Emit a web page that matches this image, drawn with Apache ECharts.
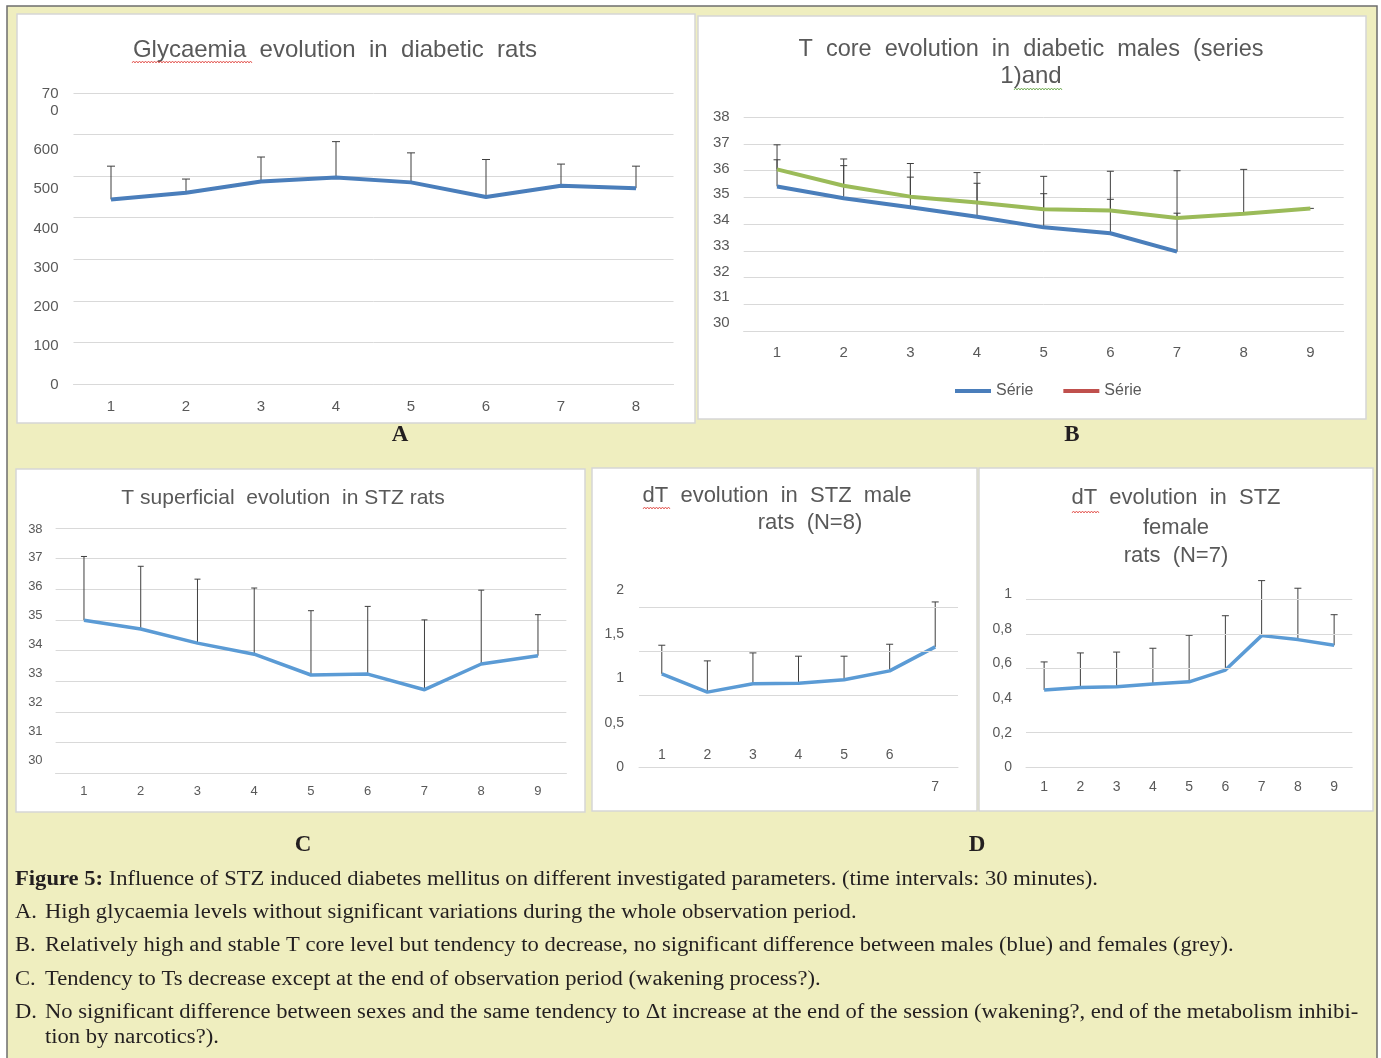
<!DOCTYPE html>
<html>
<head>
<meta charset="utf-8">
<script src="https://cdn.jsdelivr.net/npm/echarts@6/dist/echarts.min.js"></script>
<style>html,body{margin:0;padding:0;background:#fff}#c{width:1381px;height:1058px}</style>
</head>
<body>
<div id="c"></div>
<script>
// ---------- DATA ----------
// A: Glycaemia evolution in diabetic rats
const glyCategories = ['1','2','3','4','5','6','7','8'];
const glyMean = [444, 460, 487, 497, 485, 450, 477, 471];
const glyErr  = [80, 33, 59, 86, 71, 90, 52, 53];

// B: T core evolution (males = blue, females = green)
const coreCategories = ['1','2','3','4','5','6','7','8','9'];
const coreMales      = [35.41, 34.97, 34.63, 34.28, 33.88, 33.66, 32.97];
const coreMalesErr   = [1.00, 1.22, 1.13, 1.25, 1.26, 1.27, 1.44];
const coreFemales    = [36.05, 35.44, 35.03, 34.81, 34.56, 34.51, 34.23, 34.39, 34.59];
const coreFemalesErr = [0.92, 1.00, 1.24, 1.12, 1.23, 1.47, 1.77, 1.66, 0];
const coreLegend     = ['Série', 'Série '];

// C: T superficial evolution in STZ rats
const supCategories = ['1','2','3','4','5','6','7','8','9'];
const supMean = [34.99, 34.70, 34.24, 33.88, 33.20, 33.23, 32.72, 33.56, 33.83];
const supErr  = [2.08, 2.05, 2.09, 2.16, 2.10, 2.21, 2.28, 2.41, 1.34];

// D: dT evolution, males (N=8) and females (N=7)
const dtMaleCategories = ['1','2','3','4','5','6','7'];
const dtMaleMean = [1.053, 0.846, 0.940, 0.947, 0.985, 1.086, 1.357];
const dtMaleErr  = [0.323, 0.353, 0.349, 0.305, 0.267, 0.301, 0.508];
const dtMaleGridValues = [0.805, 1.311, 1.811, 2.305];

const dtFemaleCategories = ['1','2','3','4','5','6','7','8','9'];
const dtFemaleMean = [0.447, 0.461, 0.465, 0.482, 0.494, 0.562, 0.761, 0.738, 0.705];
const dtFemaleErr  = [0.162, 0.200, 0.201, 0.206, 0.269, 0.314, 0.318, 0.297, 0.177];
const dtFemaleGridValues = [0.2, 0.566, 0.769, 0.973, 1.175];

// Texts
const titleA = 'Glycaemia  evolution  in  diabetic  rats';
const titleB = ['T  core  evolution  in  diabetic  males  (series', '1)and'];
const titleC = 'T superficial  evolution  in STZ rats';
const titleDm = ['dT  evolution  in  STZ  male', 'rats  (N=8)'];
const titleDf = ['dT  evolution  in  STZ', 'female', 'rats  (N=7)'];
const captionLines = [
  '{b|Figure 5:} Influence of STZ induced diabetes mellitus on different investigated parameters. (time intervals: 30 minutes).',
  ['A.', 'High glycaemia levels without significant variations during the whole observation period.'],
  ['B.', 'Relatively high and stable T core level but tendency to decrease, no significant difference between males (blue) and females (grey).'],
  ['C.', 'Tendency to Ts decrease except at the end of observation period (wakening process?).'],
  ['D.', 'No significant difference between sexes and the same tendency to \u0394t increase at the end of the session (wakening?, end of the metabolism inhibi-'],
  ['', 'tion by narcotics?).']
];

// ---------- HELPERS ----------
const GRID_C = '#D9D9D9';
const LBL_C = '#595959';
const SANS = "'Liberation Sans', Arial, sans-serif";
const SERIF = "'Liberation Serif', 'Times New Roman', serif";

function toErrData(mean, err) { return mean.map((m, i) => [i, m, err[i]]); }
function errSeries(xi, yi, mean, err, capW) {
  return {
    type: 'custom', xAxisIndex: xi, yAxisIndex: yi, z: 1, silent: true,
    data: toErrData(mean, err),
    encode: { x: 0, y: 1 },
    renderItem: function (params, api) {
      const i = api.value(0), m = api.value(1), e = api.value(2);
      const p0 = api.coord([i, m]);
      const p1 = api.coord([i, m + e]);
      const st = { stroke: '#3F3F3F', lineWidth: 1 };
      return { type: 'group', children: [
        { type: 'line', shape: { x1: p0[0], y1: p0[1], x2: p1[0], y2: p1[1] }, style: st },
        { type: 'line', shape: { x1: p1[0] - capW / 2, y1: p1[1], x2: p1[0] + capW / 2, y2: p1[1] }, style: st }
      ]};
    }
  };
}
function lineSeries(name, xi, yi, data, color, width) {
  return { name: name, type: 'line', xAxisIndex: xi, yAxisIndex: yi, data: data, z: 3,
    symbol: 'none', lineStyle: { color: color, width: width }, itemStyle: { color: color }, silent: true, animation: false };
}
function gridLinesMark(values) {
  return { silent: true, symbol: 'none', label: { show: false }, animation: false,
    lineStyle: { color: GRID_C, type: 'solid', width: 1 },
    data: values.map(v => ({ yAxis: v })) };
}
const comma = v => String(+(+v).toFixed(2)).replace('.', ',');

// ---------- GRAPHICS (background, panels, titles, caption) ----------
const graphics = [];
graphics.push({ type: 'rect', z: -20, shape: { x: 7, y: 6, width: 1370, height: 1060 },
  style: { fill: '#EFEEBF', stroke: '#6E6E6E', lineWidth: 1.5 } });
const panels = [
  [17, 14, 678, 409], [698, 16, 668, 403], [16, 469, 569, 343], [592, 468, 385, 343], [979, 468, 394, 343]
];
panels.forEach(p => graphics.push({ type: 'rect', z: -10,
  shape: { x: p[0], y: p[1], width: p[2], height: p[3] },
  style: { fill: '#FFFFFF', stroke: '#D6D6D6', lineWidth: 1.5 } }));

function txt(text, x, y, size, opts) {
  opts = opts || {};
  graphics.push({ type: 'text', z: 10, x: x, y: y, scaleX: opts.scaleX || 1,
    style: Object.assign({ text: text, fill: opts.fill || LBL_C, font: (opts.weight || 'normal') + ' ' + size + 'px ' + (opts.family || SANS),
      textAlign: opts.align || 'center', textVerticalAlign: 'middle' }, opts.extra || {}) });
}
// spell-check squiggles under some title words
function squiggle(x1, x2, y, color) {
  const pts = [];
  let k = 0;
  for (let x = x1; x <= x2; x += 1.5, k++) pts.push([x, y + (k % 2 ? -1 : 1)]);
  graphics.push({ type: 'polyline', z: 10, shape: { points: pts }, style: { stroke: color, lineWidth: 0.8, fill: null } });
}
txt(titleA, 335, 50, 24);
txt(titleB[0], 1031, 50, 23.5); txt(titleB[1], 1031, 76, 24);
txt(titleC, 283, 498, 21);
txt(titleDm[0], 777, 496, 22); txt(titleDm[1], 810, 523, 22);
txt(titleDf[0], 1176, 498, 22); txt(titleDf[1], 1176, 528, 22); txt(titleDf[2], 1176, 556, 22);
squiggle(132, 252, 62, '#E0403A');
squiggle(1014, 1063, 89, '#5CA03A');
squiggle(643, 670, 508, '#E0403A');
squiggle(1072, 1099, 512, '#E0403A');

// panel letters
txt('A', 400, 435, 23, { family: SERIF, weight: 'bold', fill: '#231F20' });
txt('B', 1072, 435, 23, { family: SERIF, weight: 'bold', fill: '#231F20' });
txt('C', 303, 845, 23, { family: SERIF, weight: 'bold', fill: '#231F20' });
txt('D', 977, 845, 23, { family: SERIF, weight: 'bold', fill: '#231F20' });

// caption (horizontally widened serif to match the original typeface width)
const capY = [880, 913, 946, 980, 1013, 1038];
const CAP_SX = 1.13;
captionLines.forEach((ln, i) => {
  if (typeof ln === 'string') {
    txt(ln, 15, capY[i], 20, { family: SERIF, fill: '#231F20', align: 'left', scaleX: CAP_SX,
      extra: { rich: { b: { font: 'bold 20px ' + SERIF, fill: '#231F20' } } } });
  } else {
    if (ln[0]) txt(ln[0], 15, capY[i], 20, { family: SERIF, fill: '#231F20', align: 'left', scaleX: CAP_SX });
    txt(ln[1], 45, capY[i], 20, { family: SERIF, fill: '#231F20', align: 'left', scaleX: CAP_SX });
  }
});

// ---------- CHART ----------
const chart = echarts.init(document.getElementById('c'));
const hiddenX = (gi, data) => ({ type: 'category', gridIndex: gi, data: data, show: false });
const catX = (gi, data, size, margin, extra) => Object.assign({
  type: 'category', gridIndex: gi, data: data, boundaryGap: true,
  axisLine: { show: true, lineStyle: { color: GRID_C, width: 1 } }, axisTick: { show: false },
  axisLabel: { color: LBL_C, fontSize: size, fontFamily: SANS, margin: margin, interval: 0 },
  splitLine: { show: false }
}, extra || {});
const dataY = (gi, min, max, interval, showSplit) => ({
  type: 'value', gridIndex: gi, min: min, max: max, interval: interval,
  axisLine: { show: false }, axisTick: { show: false }, axisLabel: { show: false },
  splitLine: { show: showSplit, lineStyle: { color: GRID_C, width: 1 } }
});
const labelY = (gi, min, max, interval, size, margin, fmt, extraLbl) => ({
  type: 'value', gridIndex: gi, min: min, max: max, interval: interval,
  axisLine: { show: false }, axisTick: { show: false }, splitLine: { show: false },
  axisLabel: Object.assign({ color: LBL_C, fontSize: size, fontFamily: SANS, margin: margin, formatter: fmt }, extraLbl || {})
});

const option = {
  animation: false,
  backgroundColor: '#FFFFFF',
  graphic: graphics,
  legend: {
    data: coreLegend, left: 950, top: 378, icon: 'rect', itemWidth: 36, itemHeight: 4, itemGap: 30,
    selectedMode: false, textStyle: { color: LBL_C, fontSize: 16, fontFamily: SANS }
  },
  grid: [
    { left: 73.5, top: 93, width: 600, height: 291 },      // 0 A data
    { left: 73.5, top: 111, width: 600, height: 274 },     // 1 A labels
    { left: 743.7, top: 117.3, width: 600, height: 213.7 },// 2 B data
    { left: 743.7, top: 117, width: 600, height: 206 },    // 3 B labels
    { left: 55.6, top: 528, width: 510.75, height: 245 },  // 4 C data
    { left: 55.6, top: 529, width: 510.75, height: 231 },  // 5 C labels
    { left: 639, top: 563, width: 319, height: 204 },      // 6 D male
    { left: 1026, top: 564, width: 326.25, height: 203.3 } // 7 D female
  ],
  xAxis: [
    catX(0, glyCategories, 15, 15),
    hiddenX(1, glyCategories),
    catX(2, coreCategories, 15, 14),
    hiddenX(3, coreCategories),
    catX(4, supCategories, 13, 12),
    hiddenX(5, supCategories),
    catX(6, dtMaleCategories, 14, -20, {}),
    catX(7, dtFemaleCategories, 14, 13)
  ],
  yAxis: [
    dataY(0, 0, 700, 100, true),
    labelY(1, 0, 700, 100, 15, 15, v => v === 700 ? '70\n0\n' : String(v), { lineHeight: 17 }),
    dataY(2, 30, 38, 1, true),
    labelY(3, 30, 38, 1, 15, 14, v => String(v)),
    dataY(4, 30, 38, 1, true),
    labelY(5, 30, 38, 1, 13, 13, v => String(v)),
    labelY(6, 0, 2.305, 0.5, 14, 15, comma, { showMaxLabel: false }),
    labelY(7, 0, 1.175, 0.2, 14, 14, comma, { showMaxLabel: false })
  ],
  series: [
    errSeries(0, 0, glyMean, glyErr, 8),
    lineSeries('Glycaemia', 0, 0, glyMean, '#4A7EBB', 4),

    errSeries(2, 2, coreMales, coreMalesErr, 7),
    errSeries(2, 2, coreFemales, coreFemalesErr, 7),
    lineSeries(coreLegend[0], 2, 2, coreMales, '#4A7EBB', 4),
    lineSeries('Females', 2, 2, coreFemales, '#9BBB59', 4),
    lineSeries(coreLegend[1], 2, 2, [], '#C0504D', 4),

    errSeries(4, 4, supMean, supErr, 6),
    lineSeries('Ts', 4, 4, supMean, '#5B9BD5', 3.5),

    errSeries(6, 6, dtMaleMean, dtMaleErr, 7),
    Object.assign(lineSeries('dT males', 6, 6, dtMaleMean, '#5B9BD5', 3.5), { markLine: gridLinesMark(dtMaleGridValues) }),

    errSeries(7, 7, dtFemaleMean, dtFemaleErr, 7),
    Object.assign(lineSeries('dT females', 7, 7, dtFemaleMean, '#5B9BD5', 3.5), { markLine: gridLinesMark(dtFemaleGridValues) })
  ]
};
// D male x labels: 1-6 drawn above the base line, 7 below it
option.xAxis[6].axisLabel.lineHeight = 16;
option.xAxis[6].axisLabel.formatter = v => v === dtMaleCategories[dtMaleCategories.length - 1] ? '\n\n' + v : v;
chart.setOption(option);
</script>
</body>
</html>
